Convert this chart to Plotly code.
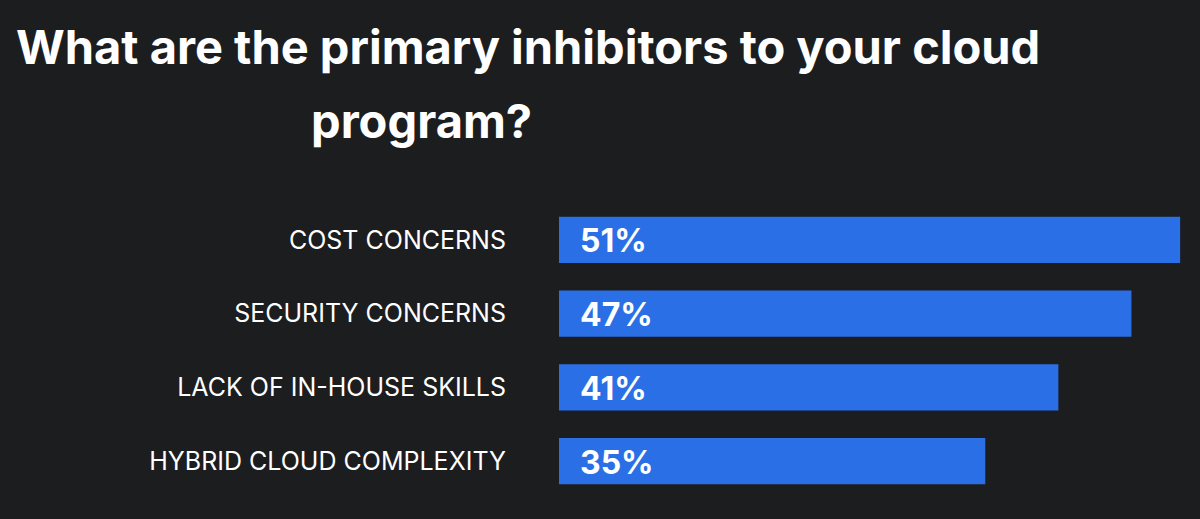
import plotly.graph_objects as go

categories = ["COST CONCERNS", "SECURITY CONCERNS", "LACK OF IN-HOUSE SKILLS", "HYBRID CLOUD COMPLEXITY"]
values = [51, 47, 41, 35]
title_line1 = "What are the primary inhibitors to your cloud"
title_line2 = "program?"

BG = "#1c1d1f"
BAR = "#2b6fe6"
FONT = "Inter, Roboto, sans-serif"

fig = go.Figure(go.Bar(
    x=values, y=categories, orientation="h",
    marker=dict(color=BAR, line=dict(width=0)),
    hoverinfo="skip",
))

annotations = []
for c, v in zip(categories, values):
    annotations.append(dict(
        x=0, y=c, xref="x", yref="y", text=f"{v}%", showarrow=False,
        xanchor="left", yanchor="middle", xshift=19, yshift=-1,
        font=dict(family=FONT, size=32, color="white", weight=700),
    ))

# title lines (paper coords)
annotations.append(dict(
    x=(14 - 559) / 641, y=(498 - 46) / 295, xref="paper", yref="paper",
    text=title_line1, showarrow=False, xanchor="left", yanchor="middle",
    font=dict(family=FONT, size=47, color="white", weight=700),
))
annotations.append(dict(
    x=(309 - 559) / 641, y=(498 - 120) / 295, xref="paper", yref="paper",
    text=title_line2, showarrow=False, xanchor="left", yanchor="middle",
    font=dict(family=FONT, size=47, color="white", weight=700),
))

fig.update_layout(
    width=1200, height=519,
    paper_bgcolor=BG, plot_bgcolor=BG,
    margin=dict(l=559, r=0, t=203, b=21, pad=0),
    bargap=0.376,
    showlegend=False,
    xaxis=dict(range=[0, 52.63], visible=False, fixedrange=True),
    yaxis=dict(
        categoryorder="array", categoryarray=categories, autorange="reversed",
        showgrid=False, zeroline=False, showline=False, ticks="",
        ticklabelstandoff=52,
        tickfont=dict(family=FONT, size=25, color="white"),
    ),
    annotations=annotations,
)

fig.write_html(
    "out.html",
    config={"displayModeBar": False},
    post_script="document.body.style.margin='0';document.body.style.background='%s';" % BG,
)
